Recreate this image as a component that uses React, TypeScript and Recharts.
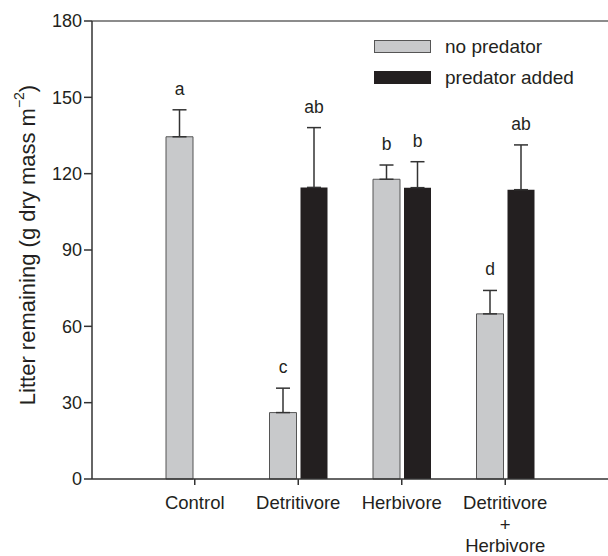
import { BarChart, Bar, XAxis, YAxis, ErrorBar, LabelList, ReferenceLine } from "recharts";

const categories = ["Control", "Detritivore", "Herbivore", "Detritivore\n+\nHerbivore"];
const noPredator = [134.5, 26.1, 117.8, 64.9];
const noPredatorErr = [10.6, 9.6, 5.6, 9.2];
const noPredatorLetters = ["a", "c", "b", "d"];
const predatorAdded = [null, 114.6, 114.5, 113.7];
const predatorAddedErr = [null, 23.5, 10.2, 17.6];
const predatorAddedLetters = [null, "ab", "b", "ab"];
const yTicks = [0, 30, 60, 90, 120, 150, 180];

const data = categories.map((name, i) => ({
  name,
  idx: i,
  grey: noPredator[i],
  greyErr: noPredatorErr[i] == null ? null : [0, noPredatorErr[i]],
  black: predatorAdded[i],
  blackErr: predatorAddedErr[i] == null ? null : [0, predatorAddedErr[i]],
}));

const FONT = "'Liberation Sans', Arial, Helvetica, sans-serif";
const INK = "#231f20";
const GREY = "#c8c9cb";

// letter sits above the top of the error bar; value passed in is the row index
const letterLabel = (vals: (number | null)[], errs: (number | null)[], letters: (string | null)[]) => (props: any) => {
  const vb = props.viewBox || props;
  const i = props.value;
  const v = vals[i];
  const letter = letters[i];
  const err = errs[i];
  if (v == null || !letter || err == null) return null;
  const pxPerUnit = vb.height / v;
  const errTop = vb.y - err * pxPerUnit;
  return (
    <text x={vb.x + vb.width / 2} y={errTop - 15} textAnchor="middle" fontSize={17.5} fill={INK} fontFamily={FONT}>
      {letter}
    </text>
  );
};

const CategoryTick = ({ x, y, payload }: any) => {
  const lines = String(payload.value).split("\n");
  return (
    <text x={x} y={y} textAnchor="middle" fontSize={18.5} fill={INK} fontFamily={FONT}>
      {lines.map((l, i) => (
        <tspan key={i} x={x} dy={i === 0 ? "0.71em" : 21.5}>
          {l}
        </tspan>
      ))}
    </text>
  );
};

const YLabel = ({ viewBox }: any) => {
  const cx = 27;
  const cy = viewBox.y + viewBox.height / 2 - 5;
  return (
    <text x={cx} y={cy} transform={`rotate(-90 ${cx} ${cy})`} textAnchor="middle" dominantBaseline="central" fontSize={22} fill={INK} fontFamily={FONT}>
      Litter remaining (g dry mass m
      <tspan dy={-8} fontSize={14}>−2</tspan>
      <tspan dy={8}>)</tspan>
    </text>
  );
};

const LegendBox = () => (
  <div style={{ position: "absolute", top: 39, left: 374, fontFamily: FONT, fontSize: 19, color: INK, lineHeight: "19px" }}>
    <div style={{ display: "flex", alignItems: "center", height: 14 }}>
      <span style={{ display: "inline-block", width: 55, height: 11, background: GREY, border: "1px solid #555" }} />
      <span style={{ marginLeft: 14 }}>no predator</span>
    </div>
    <div style={{ display: "flex", alignItems: "center", height: 14, marginTop: 17 }}>
      <span style={{ display: "inline-block", width: 57, height: 13, background: INK }} />
      <span style={{ marginLeft: 14 }}>predator added</span>
    </div>
  </div>
);

export default function App() {
  return (
    <div style={{ position: "relative", width: 608, height: 556, background: "#fff" }}>
      <style>{`body{margin:0}`}</style>
      <BarChart width={608} height={556} data={data} margin={{ top: 21, right: 0, left: 0, bottom: 47 }} barSize={27} barGap={4}>
        <XAxis
          dataKey="name"
          height={30}
          padding={{ left: 51, right: 51 }}
          tick={<CategoryTick />}
          tickSize={6}
          tickMargin={11}
          stroke="#333"
          strokeWidth={1.5}
          interval={0}
        />
        <YAxis
          domain={[0, 180]}
          ticks={yTicks}
          width={92}
          tickSize={8}
          tickMargin={2}
          stroke="#333"
          strokeWidth={1.5}
          tick={{ fontSize: 18, fill: INK, fontFamily: FONT }}
          label={<YLabel />}
          interval={0}
        />
        <ReferenceLine y={180} stroke="#666" strokeWidth={1.5} />
        <Bar dataKey="grey" fill={GREY} stroke="#555" strokeWidth={1} isAnimationActive={false}>
          <ErrorBar dataKey="greyErr" width={7} stroke="#333" strokeWidth={1.5} direction="y" />
          <LabelList dataKey="idx" content={letterLabel(noPredator, noPredatorErr, noPredatorLetters)} />
        </Bar>
        <Bar dataKey="black" fill={INK} isAnimationActive={false}>
          <ErrorBar dataKey="blackErr" width={7} stroke="#333" strokeWidth={1.5} direction="y" />
          <LabelList dataKey="idx" content={letterLabel(predatorAdded, predatorAddedErr, predatorAddedLetters)} />
        </Bar>
      </BarChart>
      <LegendBox />
    </div>
  );
}
